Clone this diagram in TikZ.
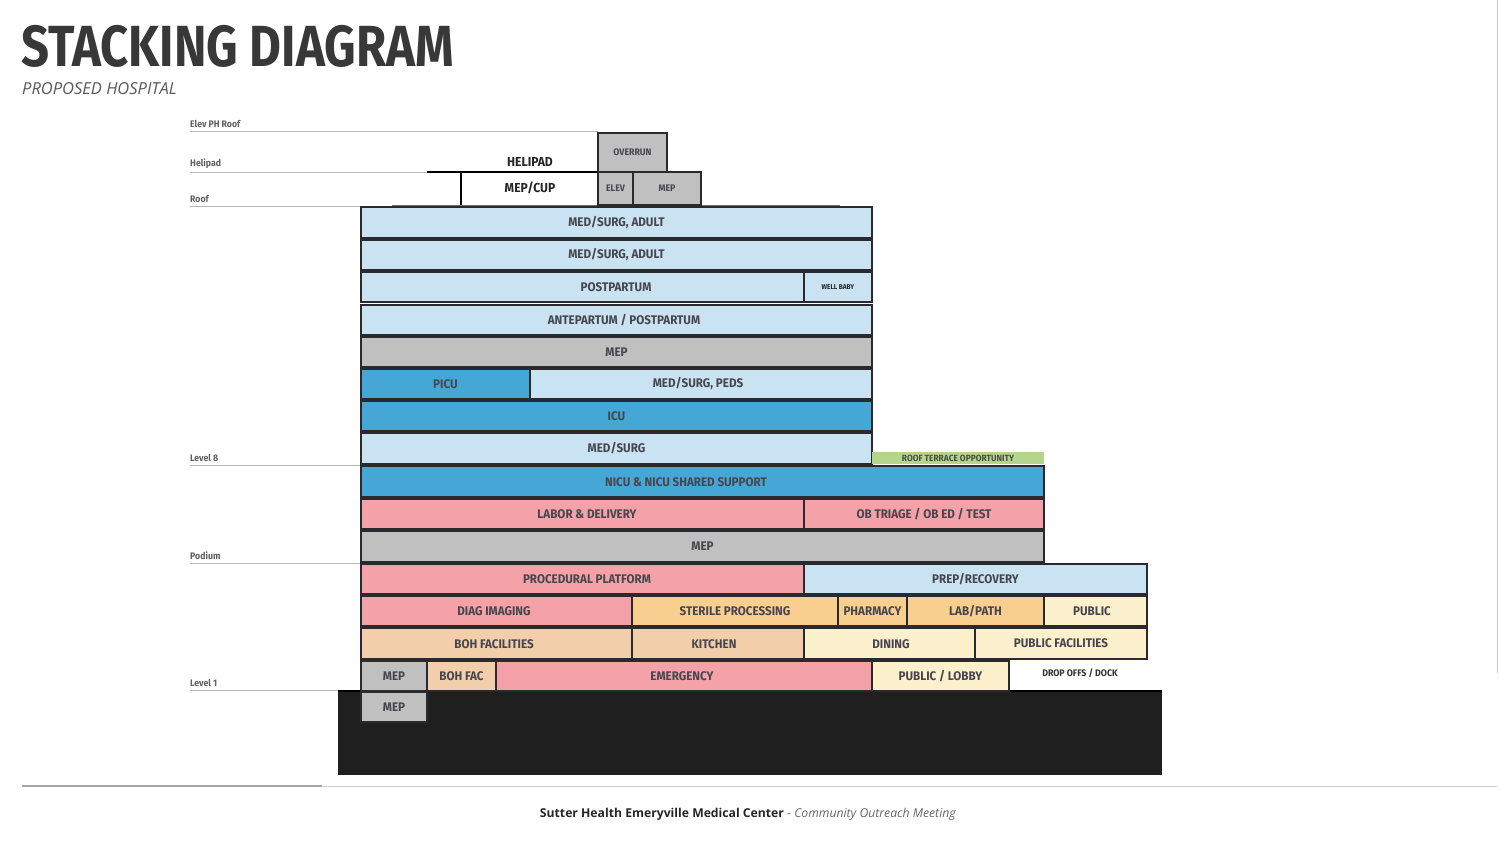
\documentclass[tikz,border=0pt]{standalone}
\usepackage{fontspec}
\setmainfont{Open Sans}
\newfontfamily\titlef[FakeStretch=0.845]{Fira Sans}
\newfontfamily\labf[FakeStretch=0.93]{Fira Sans}
\newfontfamily\lvlf[FakeStretch=0.92]{Fira Sans}
\definecolor{lblue}{HTML}{C9E3F3}
\definecolor{dblue}{HTML}{45A7D5}
\definecolor{mgray}{HTML}{C1C0C1}
\definecolor{pink}{HTML}{F4A2A7}
\definecolor{orng}{HTML}{F9CF8F}
\definecolor{peach}{HTML}{F2CFAA}
\definecolor{pyell}{HTML}{FDF0CD}
\definecolor{lgreen}{HTML}{B6D58C}
\definecolor{txt}{HTML}{47464E}
\definecolor{boxline}{HTML}{2A2A2E}
\newcommand\blk[7]{%
  \pgfmathsetmacro\bw{#4-#2}\pgfmathsetmacro\bh{#5-#3}%
  \pgfmathsetmacro\bx{(#2+#4)/2}\pgfmathsetmacro\by{(#3+#5)/2}%
  \node[box,fill=#6,minimum width=\bw pt,minimum height=\bh pt] (#1) at (\bx,\by) {#7};}
\begin{document}
\begin{tikzpicture}[x=1pt,y=-1pt,
  box/.style={draw=boxline,line width=1.2pt,inner sep=0pt,text=txt,
    font=\labf\bfseries\fontsize{12.5}{12.5}\selectfont},
  boxtext/.style={inner sep=0pt,text=txt,font=\labf\bfseries\fontsize{12.5}{12.5}\selectfont},
  smtext/.style={inner sep=0pt,text=txt,font=\labf\bfseries\fontsize{9.5}{9.5}\selectfont},
  lvl/.style={anchor=west,inner sep=0pt,text=black!62,font=\lvlf\bfseries\fontsize{9.5}{9.5}\selectfont},
  lvlline/.style={draw=black!28,line width=0.8pt}]
\useasboundingbox[fill=white] (0,0) rectangle (1500,841);
% title
\node[anchor=base west,inner sep=0pt,text=black!78,font=\titlef\bfseries\fontsize{58}{58}\selectfont] (title) at (21,66) {STACKING DIAGRAM};
\node[anchor=west,inner sep=0pt,text=black!65,font=\itshape\fontsize{16.5}{16.5}\selectfont] (sub) at (22,89) {PROPOSED HOSPITAL};
% frame lines
\draw[draw=black!22,line width=1pt] (1497,0) -- (1497,673);
\draw[draw=black!20,line width=1pt] (22,786) -- (1497,786);
\draw[draw=black!35,line width=1.2pt] (22,786) -- (322,786);
% level labels
\node[lvl] (lph) at (190,124) {Elev PH Roof};
\node[lvl] (lheli) at (190,164) {Helipad};
\node[lvl] (lroof) at (190,199) {Roof};
\node[lvl] (l8) at (190,458) {Level 8};
\node[lvl] (lpod) at (190,556) {Podium};
\node[lvl] (l1) at (190,683) {Level 1};
\draw[lvlline] (190,131) -- (598,131);
\draw[lvlline] (190,172) -- (427,172);
\draw[lvlline] (190,206) -- (361,206);
\draw[lvlline] (190,465) -- (361,465);
\draw[lvlline] (190,563) -- (361,563);
\draw[lvlline] (190,690) -- (338,690);
% black base
\fill[fill=black!88] (338,691) rectangle (1162,775);
\draw[line width=1.5pt] (338,691) -- (1162,691);
% roof structures
\draw[draw=black!55,line width=1.6pt] (392,205.5) -- (840,205.5);
\draw[line width=2pt] (427,172) -- (598,172);
\draw[line width=1.5pt] (461,172) -- (461,205);
\node[inner sep=0pt,text=black!85,font=\labf\bfseries\fontsize{13}{13}\selectfont] (heli) at (530,162) {HELIPAD};
\node[inner sep=0pt,text=black!85,font=\labf\bfseries\fontsize{13}{13}\selectfont] (cup) at (530,188) {MEP/CUP};
\blk{ovr}{598}{133}{667}{172}{mgray}{}
\blk{elev}{598}{172}{633}{205}{mgray}{}
\blk{rmep}{633}{172}{701}{205}{mgray}{}
\node[smtext] (tovr) at (ovr) {OVERRUN};
\node[smtext] (telev) at (elev) {ELEV};
\node[smtext] (trmep) at (rmep) {MEP};
% tower
\blk{r1}{361}{207}{872}{238}{lblue}{MED/SURG, ADULT}
\blk{r2}{361}{240}{872}{270}{lblue}{MED/SURG, ADULT}
\blk{r3a}{361}{272}{804}{302}{lblue}{}
\blk{r3b}{804}{272}{872}{302}{lblue}{}
\node[boxtext] (tpost) at (616,287) {POSTPARTUM};
\node[inner sep=0pt,text=black!85,font=\labf\bfseries\fontsize{7}{7}\selectfont] (wb) at (r3b) {WELL BABY};
\blk{r4}{361}{305}{872}{335}{lblue}{}
\node[boxtext] (tante) at (624,320) {ANTEPARTUM / POSTPARTUM};
\blk{r5}{361}{337}{872}{367}{mgray}{MEP}
\blk{r6a}{361}{369}{530}{399}{dblue}{PICU}
\blk{r6b}{530}{369}{872}{399}{lblue}{}
\node[boxtext] (tpeds) at (698,384) {MED/SURG, PEDS};
\blk{r7}{361}{401}{872}{431}{dblue}{ICU}
\blk{r8}{361}{433}{872}{464}{lblue}{MED/SURG}
\node[fill=lgreen,inner sep=0pt,minimum width=172pt,minimum height=12pt,text=black!70,font=\labf\bfseries\fontsize{9}{9}\selectfont] (terr) at (958,458) {ROOF TERRACE OPPORTUNITY};
% podium
\blk{r9}{361}{466}{1044}{497}{dblue}{}
\node[boxtext] (tnicu) at (686,482) {NICU \& NICU SHARED SUPPORT};
\blk{r10a}{361}{499}{804}{529}{pink}{}
\node[boxtext] (tlab) at (587,514) {LABOR \& DELIVERY};
\blk{r10b}{804}{499}{1044}{529}{pink}{OB TRIAGE / OB ED / TEST}
\blk{r11}{361}{531}{1044}{562}{mgray}{MEP}
\blk{r12a}{361}{564}{804}{594}{pink}{}
\node[boxtext] (tproc) at (587,579) {PROCEDURAL PLATFORM};
\blk{r12b}{804}{564}{1147}{594}{lblue}{PREP/RECOVERY}
\blk{r13a}{361}{596}{632}{626}{pink}{}
\node[boxtext] (tdiag) at (494,611) {DIAG IMAGING};
\blk{r13b}{632}{596}{838}{626}{orng}{STERILE PROCESSING}
\blk{r13c}{838}{596}{907}{626}{orng}{PHARMACY}
\blk{r13d}{907}{596}{1044}{626}{orng}{LAB/PATH}
\blk{r13e}{1044}{596}{1147}{626}{pyell}{}
\node[boxtext] (tpub) at (1092,611) {PUBLIC};
\blk{r14a}{361}{628}{632}{659}{peach}{}
\node[boxtext] (tboh) at (494,644) {BOH FACILITIES};
\blk{r14b}{632}{628}{804}{659}{peach}{}
\node[boxtext] (tkit) at (714,644) {KITCHEN};
\blk{r14c}{804}{628}{975}{659}{pyell}{}
\node[boxtext] (tdin) at (891,644) {DINING};
\blk{r14d}{975}{628}{1147}{659}{pyell}{PUBLIC FACILITIES}
\blk{r15a}{361}{661}{427}{691}{mgray}{MEP}
\blk{r15b}{427}{661}{496}{691}{peach}{BOH FAC}
\blk{r15c}{496}{661}{872}{691}{pink}{}
\node[boxtext] (temer) at (682,676) {EMERGENCY};
\blk{r15d}{872}{661}{1009}{691}{pyell}{PUBLIC / LOBBY}
\node[inner sep=0pt,text=black!80,font=\labf\bfseries\fontsize{9.5}{9.5}\selectfont] (drop) at (1080,673) {DROP OFFS / DOCK};
\blk{bmep}{361}{692}{427}{722}{mgray}{MEP}
% footer
\node[inner sep=0pt,text=black!85,font=\fontsize{12.2}{12.2}\selectfont] (foot) at (748,814) {\textbf{Sutter Health Emeryville Medical Center}\ \textcolor{black!60}{-\ \textit{Community Outreach Meeting}}};
\end{tikzpicture}
\end{document}
